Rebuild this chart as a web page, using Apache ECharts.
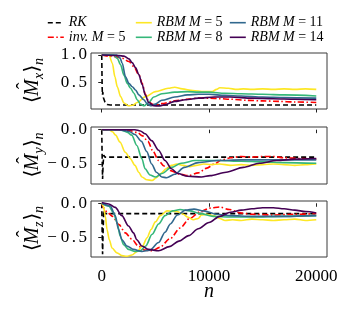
<!DOCTYPE html>
<html><head><meta charset="utf-8">
<script src="https://cdn.jsdelivr.net/npm/echarts@6/dist/echarts.min.js"></script>
<style>html,body{margin:0;padding:0;background:#fff}#c{width:350px;height:315px}</style>
</head><body><div id="c"></div>
<script>
// ---------- data: [n, value] ----------
const rkMx = [[0,1.0],[40,0.4],[70,0.27],[100,0.32],[150,0.22],[300,0.14],[500,0.095],[800,0.085],[20000,0.085]];
const invMx = [[0,1.0],[600,0.98],[1300,0.97],[1910,0.94],[2530,0.88],[2990,0.79],[3460,0.64],[3770,0.48],[4070,0.28],[4380,0.15],[4700,0.1],[5000,0.08],[5600,0.11],[6800,0.16],[8000,0.19],[9000,0.21],[10000,0.21],[11000,0.2],[12000,0.19],[13500,0.17],[15000,0.16],[16500,0.15],[18000,0.14],[20000,0.13]];
const rbm5Mx = [[0,1.0],[680,1.0],[990,0.85],[1230,0.6],[1450,0.42],[1760,0.24],[2070,0.12],[2500,0.07],[2900,0.08],[3300,0.13],[4100,0.24],[5000,0.33],[6200,0.39],[6800,0.41],[7500,0.38],[8500,0.35],[9500,0.33],[10300,0.33],[10700,0.37],[11000,0.40],[11800,0.39],[12600,0.37],[13200,0.38],[14000,0.37],[15000,0.38],[16000,0.37],[17000,0.38],[18000,0.37],[19000,0.38],[20000,0.37]];
const rbm8Mx = [[0,1.0],[1100,1.0],[1450,0.94],[1760,0.82],[2070,0.63],[2380,0.48],[2690,0.39],[3000,0.3],[3310,0.18],[3610,0.1],[3950,0.07],[4380,0.13],[4850,0.23],[5600,0.29],[6800,0.32],[8000,0.33],[9000,0.32],[10000,0.32],[11500,0.3],[13000,0.29],[15000,0.28],[17000,0.27],[20000,0.25]];
const rbm11Mx = [[0,1.0],[1400,1.0],[1700,0.95],[1910,0.85],[2220,0.6],[2530,0.48],[2840,0.42],[3150,0.36],[3460,0.27],[3920,0.18],[4230,0.11],[4550,0.07],[5000,0.1],[5600,0.17],[6800,0.23],[8000,0.27],[9000,0.28],[10000,0.28],[11500,0.26],[13000,0.25],[15000,0.23],[17000,0.22],[20000,0.21]];
const rbm14Mx = [[0,1.0],[1600,0.99],[2070,0.98],[2530,0.93],[2840,0.86],[3150,0.77],[3460,0.64],[3770,0.46],[4070,0.26],[4380,0.13],[4850,0.07],[5300,0.065],[5900,0.09],[6800,0.15],[7800,0.18],[9000,0.21],[10500,0.23],[12000,0.23],[14000,0.21],[16000,0.2],[18000,0.19],[20000,0.18]];

const rkMy = [[0,0],[40,-0.4],[80,-0.72],[130,-0.5],[190,-0.37],[300,-0.4],[20000,-0.4]];
const invMy = [[0,0],[1500,0],[2500,-0.01],[3300,-0.04],[3800,-0.09],[4300,-0.17],[4800,-0.32],[5300,-0.45],[5800,-0.53],[6500,-0.6],[7300,-0.65],[8100,-0.67],[9000,-0.63],[9800,-0.56],[10500,-0.5],[11200,-0.44],[12000,-0.41],[13000,-0.39],[14000,-0.4],[15000,-0.39],[16000,-0.39],[17000,-0.41],[18500,-0.42],[20000,-0.43]];
const rbm5My = [[0,0],[650,0],[1000,-0.03],[1300,-0.08],[1700,-0.18],[2200,-0.33],[2650,-0.42],[3100,-0.52],[3450,-0.62],[3750,-0.69],[4200,-0.73],[4700,-0.74],[5100,-0.7],[5500,-0.64],[6000,-0.57],[6500,-0.52],[7000,-0.5],[7600,-0.52],[8200,-0.54],[8800,-0.52],[9500,-0.5],[10200,-0.51],[11000,-0.5],[12000,-0.52],[13000,-0.51],[14000,-0.52],[15000,-0.51],[16000,-0.5],[17000,-0.51],[18000,-0.52],[19000,-0.51],[20000,-0.5]];
const rbm8My = [[0,0],[1500,0],[1900,-0.01],[2400,-0.04],[2800,-0.08],[3270,-0.23],[3740,-0.42],[4040,-0.57],[4500,-0.66],[5000,-0.69],[5600,-0.64],[6500,-0.55],[7400,-0.49],[8700,-0.45],[10000,-0.45],[11000,-0.45],[13000,-0.46],[15000,-0.47],[17000,-0.48],[20000,-0.49]];
const rbm11My = [[0,0],[1500,0],[2000,-0.01],[2600,-0.03],[3100,-0.07],[3700,-0.17],[4200,-0.32],[4650,-0.5],[5100,-0.62],[5600,-0.69],[6050,-0.7],[6800,-0.65],[7700,-0.55],[9000,-0.48],[10800,-0.45],[13000,-0.44],[16000,-0.44],[20000,-0.44]];
const rbm14My = [[0,0],[3100,0],[3600,-0.02],[4050,-0.06],[4650,-0.16],[5300,-0.3],[5900,-0.45],[6500,-0.57],[7100,-0.64],[8000,-0.68],[9300,-0.69],[10100,-0.67],[11600,-0.62],[13200,-0.55],[14700,-0.49],[16300,-0.45],[18000,-0.43],[20000,-0.42]];

const rkMz = [[0,0],[40,-0.4],[80,-0.74],[130,-0.4],[190,-0.1],[300,-0.15],[20000,-0.15]];
const invMz = [[0,0],[200,-0.07],[500,-0.13],[1000,-0.19],[1600,-0.31],[2200,-0.43],[2800,-0.52],[3400,-0.62],[4000,-0.68],[4700,-0.69],[5400,-0.64],[6400,-0.51],[7300,-0.36],[8200,-0.22],[9200,-0.12],[10100,-0.07],[11000,-0.055],[11900,-0.09],[12900,-0.14],[14000,-0.16],[16000,-0.17],[18000,-0.16],[20000,-0.15]];
const rbm5Mz = [[0,0],[150,-0.04],[340,-0.19],[490,-0.38],[710,-0.53],[960,-0.65],[1420,-0.72],[1880,-0.76],[2350,-0.77],[2810,-0.75],[3300,-0.7],[3800,-0.62],[4230,-0.5],[4600,-0.38],[5000,-0.27],[5460,-0.18],[6080,-0.11],[7000,-0.12],[7600,-0.16],[8000,-0.2],[8550,-0.24],[9000,-0.22],[9300,-0.17],[9800,-0.16],[10400,-0.18],[11000,-0.22],[11500,-0.25],[12200,-0.24],[13000,-0.25],[14000,-0.23],[15000,-0.24],[16000,-0.25],[17000,-0.24],[18000,-0.23],[19000,-0.25],[20000,-0.24]];
const rbm8Mz = [[0,0],[650,-0.04],[1110,-0.14],[1420,-0.28],[1730,-0.48],[2040,-0.6],[2500,-0.67],[3120,-0.7],[3580,-0.69],[4100,-0.62],[4700,-0.45],[5300,-0.3],[5900,-0.18],[6600,-0.11],[7300,-0.09],[8200,-0.11],[9200,-0.15],[10400,-0.19],[12000,-0.2],[14000,-0.2],[17000,-0.19],[20000,-0.18]];
const rbm11Mz = [[0,0],[800,-0.04],[1260,-0.18],[1570,-0.38],[1880,-0.53],[2350,-0.62],[2960,-0.67],[3740,-0.7],[4500,-0.68],[5300,-0.57],[5900,-0.42],[6400,-0.3],[7050,-0.17],[7800,-0.1],[8600,-0.085],[9500,-0.11],[10700,-0.16],[12000,-0.18],[14000,-0.19],[17000,-0.19],[20000,-0.18]];
const rbm14Mz = [[0,0.01],[650,-0.01],[1260,-0.06],[1880,-0.18],[2500,-0.33],[2960,-0.43],[3270,-0.53],[3740,-0.62],[4350,-0.67],[5300,-0.69],[6300,-0.63],[7200,-0.55],[8100,-0.47],[9000,-0.37],[10000,-0.28],[11000,-0.19],[12000,-0.13],[13000,-0.1],[14000,-0.08],[15000,-0.065],[16000,-0.065],[17000,-0.08],[18000,-0.1],[19000,-0.12],[20000,-0.14]];

const xTicks = [0, 10000, 20000];
const yTicksMx = [0.5, 1.0];
const yTicksMy = [-0.5, 0.0];
const yTicksMz = [-0.5, 0.0];
const names = ['RK', 'inv. M=5', 'RBM M=5', 'RBM M=8', 'RBM M=11', 'RBM M=14'];
const subs = ['x', 'y', 'z'];

// ---------- styling ----------
const F = 'Liberation Serif';
const colors = {'RK':'#000000','inv. M=5':'#ff0000','RBM M=5':'#fde725','RBM M=8':'#35b779','RBM M=11':'#31688e','RBM M=14':'#440154'};
const dash = {'RK':[5,3],'inv. M=5':[6,2.5,1.5,2.5]};
const panels = [
  {data:[rkMx,invMx,rbm5Mx,rbm8Mx,rbm11Mx,rbm14Mx], ticks:yTicksMx, min:0.011, max:1.037, top:53, h:56},
  {data:[rkMy,invMy,rbm5My,rbm8My,rbm11My,rbm14My], ticks:yTicksMy, min:-0.792, max:0.039, top:127, h:57},
  {data:[rkMz,invMz,rbm5Mz,rbm8Mz,rbm11Mz,rbm14Mz], ticks:yTicksMz, min:-0.78, max:0.033, top:201, h:56}
];

function tickRich(v){
  let s = Math.abs(v) < 1e-9 ? '0.0' : v.toFixed(1);
  const neg = s[0] === '-';
  if (neg) s = s.slice(1);
  const p = s.split('.');
  return (neg ? '{m|\u2212}' : '') + '{d|' + p[0] + '}{p|.}{d|' + p[1] + '}';
}
const tickRichStyle = {
  d:{fontFamily:F, fontSize:17, color:'#000'},
  p:{fontFamily:F, fontSize:17, color:'#000', padding:[0,2.5,0,2.5]},
  m:{fontFamily:F, fontSize:17, color:'#000', padding:[0,4,0,0]}
};

const grids = [], xAxes = [], yAxes = [], series = [], graphics = [];
panels.forEach((pn, gi) => {
  grids.push({left:91, top:pn.top, width:236, height:pn.h, show:true, borderColor:'#3a3a3a', borderWidth:1, backgroundColor:'transparent', containLabel:false});
  xAxes.push({type:'value', gridIndex:gi, min:-1000, max:21000,
    axisLine:{show:false}, splitLine:{show:false},
    axisTick:{show:true, inside:false, length:3.5, customValues:xTicks, lineStyle:{color:'#222', width:1}},
    axisLabel:{show: gi === 2, customValues:xTicks, margin:11, fontFamily:F, fontSize:17, color:'#000', formatter: v => String(v)}
  });
  yAxes.push({type:'value', gridIndex:gi, min:pn.min, max:pn.max,
    axisLine:{show:false}, splitLine:{show:false},
    axisTick:{show:true, inside:false, length:3.5, customValues:pn.ticks, lineStyle:{color:'#222', width:1}},
    axisLabel:{show:true, customValues:pn.ticks, margin:4, formatter:tickRich, rich:tickRichStyle}
  });
  pn.data.forEach((d, si) => {
    const nm = names[si];
    series.push({name:nm, type:'line', xAxisIndex:gi, yAxisIndex:gi, data:d,
      symbol:'none', showSymbol:false, animation:false,
      smooth: si === 0 ? false : 0.3, smoothMonotone: 'x',
      lineStyle:{color:colors[nm], width:1.6, type: dash[nm] || 'solid'},
      itemStyle:{color:colors[nm]}, z: 2 + si});
  });
  // y axis label  <M^_s>_n
  const cy = pn.top + pn.h / 2;
  graphics.push({type:'group', x:33, y:cy, rotation:Math.PI/2, children:[
    {type:'text', x:-22, y:0, style:{text:'\u27E8', font:'20px "DejaVu Serif"', fill:'#000', align:'left', verticalAlign:'middle'}},
    {type:'text', x:-15, y:0, style:{text:'M', font:'italic 20px "' + F + '"', fill:'#000', align:'left', verticalAlign:'middle'}},
    {type:'text', x:-5, y:-7, style:{text:'\u02C6', font:'20px "' + F + '"', fill:'#000', align:'center', verticalAlign:'middle'}},
    {type:'text', x:2, y:6, style:{text:subs[gi], font:'italic 14px "' + F + '"', fill:'#000', align:'left', verticalAlign:'middle'}},
    {type:'text', x:8.5, y:0, style:{text:'\u27E9', font:'20px "DejaVu Serif"', fill:'#000', align:'left', verticalAlign:'middle'}},
    {type:'text', x:16, y:6, style:{text:'n', font:'italic 14px "' + F + '"', fill:'#000', align:'left', verticalAlign:'middle'}}
  ]});
});
graphics.push({type:'text', x:209, y:292, style:{text:'n', font:'italic 20px "' + F + '"', fill:'#000', align:'center', verticalAlign:'middle'}});

function legendFmt(name){
  const i = name.indexOf('=');
  if (i < 0) return '{i|' + name + '}';
  return '{i|' + name.slice(0, i) + '}{u| = ' + name.slice(i + 1) + '}';
}
const legendBase = {orient:'vertical', itemWidth:16, itemHeight:14, itemGap:0.6, selectedMode:false,
  formatter:legendFmt, padding:0,
  itemStyle:{opacity:0, borderWidth:0},
  lineStyle:{width:1.6},
  textStyle:{rich:{i:{fontFamily:F, fontStyle:'italic', fontSize:14, color:'#000'}, u:{fontFamily:F, fontSize:14, color:'#000'}}}};
const legends = [
  Object.assign({}, legendBase, {left:47, top:15.7, data:[names[0], names[1]]}),
  Object.assign({}, legendBase, {left:135, top:15.7, data:[names[2], names[3]]}),
  Object.assign({}, legendBase, {left:229, top:15.7, data:[names[4], names[5]]})
];

const chart = echarts.init(document.getElementById('c'), null, {renderer:'canvas'});
chart.setOption({
  animation:false,
  backgroundColor:'#fff',
  legend:legends,
  grid:grids, xAxis:xAxes, yAxis:yAxes, series:series, graphic:graphics
});
</script></body></html>
